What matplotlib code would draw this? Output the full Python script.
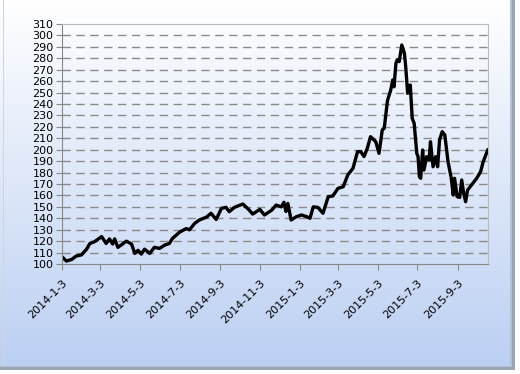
import numpy as np
import pandas as pd
import matplotlib
matplotlib.use('Agg')
import matplotlib.pyplot as plt
from matplotlib.patches import Rectangle

# values (approximate)
dates = ['2014-01-03', '2014-01-10', '2014-01-18', '2014-01-25', '2014-02-02', '2014-02-10',
         '2014-02-15', '2014-02-22', '2014-03-05', '2014-03-12', '2014-03-17', '2014-03-22',
         '2014-03-25', '2014-03-30', '2014-04-04', '2014-04-12', '2014-04-20', '2014-04-25',
         '2014-04-30', '2014-05-05', '2014-05-10', '2014-05-18', '2014-05-25', '2014-06-02',
         '2014-06-10', '2014-06-17', '2014-06-22', '2014-07-03', '2014-07-13', '2014-07-18',
         '2014-07-26', '2014-08-02', '2014-08-13', '2014-08-20', '2014-08-28', '2014-09-05',
         '2014-09-12', '2014-09-17', '2014-09-25', '2014-10-08', '2014-10-18', '2014-10-23',
         '2014-11-03', '2014-11-10', '2014-11-21', '2014-11-28', '2014-12-06', '2014-12-10',
         '2014-12-13', '2014-12-16', '2014-12-21', '2014-12-29', '2015-01-06', '2015-01-14',
         '2015-01-19', '2015-01-24', '2015-01-31', '2015-02-08', '2015-02-16', '2015-02-23',
         '2015-03-03', '2015-03-11', '2015-03-18', '2015-03-26', '2015-04-02', '2015-04-07',
         '2015-04-12', '2015-04-17', '2015-04-22', '2015-04-30', '2015-05-05', '2015-05-10',
         '2015-05-13', '2015-05-18', '2015-05-23', '2015-05-26', '2015-05-28', '2015-05-31',
         '2015-06-02', '2015-06-05', '2015-06-09', '2015-06-13', '2015-06-15', '2015-06-18',
         '2015-06-22', '2015-06-25', '2015-06-28', '2015-07-02', '2015-07-04', '2015-07-06',
         '2015-07-08', '2015-07-11', '2015-07-13', '2015-07-17', '2015-07-21', '2015-07-23',
         '2015-07-27', '2015-07-31', '2015-08-03', '2015-08-06', '2015-08-10', '2015-08-14',
         '2015-08-19', '2015-08-24', '2015-08-27', '2015-08-29', '2015-09-02', '2015-09-06',
         '2015-09-09', '2015-09-12', '2015-09-15', '2015-09-18', '2015-09-24', '2015-10-02',
         '2015-10-08', '2015-10-12', '2015-10-16', '2015-10-19']
values = [106.4, 102.6, 104, 107, 108, 113,
          118, 119.5, 124, 118, 122, 117.5,
          122, 114.6, 116.6, 120, 117.5, 109.3,
          112, 108.7, 113, 109.3, 114.6, 113.7,
          116.6, 118, 122.5, 128, 131, 130,
          135.6, 138.5, 141, 144.4, 139, 148.7,
          149.6, 145.8, 149.6, 152.5, 147, 143.7,
          147.8, 142.9, 147, 151.6, 150, 154,
          146, 153, 138.5, 141.4, 142.9, 141.4,
          140, 150, 149.6, 144.4, 158.9, 159.5,
          166.2, 167.6, 177.9, 183.7, 198.3, 198.3,
          194, 201.2, 211.4, 207, 196.8, 217.3,
          218.7, 243, 252.2, 261, 255, 275.6,
          278.5, 277, 291.6, 284.3, 272.6, 249.3,
          256.6, 227.5, 223, 196.8, 193.9, 176.4,
          175, 199.7, 182.2, 193.9, 191, 207,
          185.1, 193.9, 185.1, 208.5, 215.8, 212.9,
          189.5, 175, 160.4, 175, 158.9, 158.3,
          173.5, 161.9, 154.5, 164.7, 169.1, 175,
          180.8, 189.5, 195.4, 199.7]
tick_dates = ['2014-1-3', '2014-3-3', '2014-5-3', '2014-7-3', '2014-9-3', '2014-11-3',
              '2015-1-3', '2015-3-3', '2015-5-3', '2015-7-3', '2015-9-3']

x = pd.to_datetime(dates)
ticks = pd.to_datetime(tick_dates)

fig = plt.figure(figsize=(5.2, 3.74), dpi=100)

# gradient background
bg = fig.add_axes([0, 0, 1, 1], zorder=0)
grad = np.linspace(0, 1, 256).reshape(-1, 1)
top = np.array([1.0, 1.0, 1.0])
bot = np.array([0.73, 0.81, 0.95])
img = top + (bot - top) * grad[:, :, None]
bg.imshow(img, aspect='auto', extent=[0, 1, 0, 1], origin='upper')
bg.set_xlim(0, 1)
bg.set_ylim(0, 1)
bg.axis('off')
# frame and soft shadow
bg.add_patch(Rectangle((0.005, 0.02), 0.003, 0.98, color='#d0d4dc', lw=0))
bg.add_patch(Rectangle((0.99, 0.0), 0.01, 1, color='#ffffff', lw=0))
bg.add_patch(Rectangle((0.0, 0.0), 1, 0.01, color='#ffffff', lw=0))
bg.add_patch(Rectangle((0.984, 0.01), 0.006, 0.99, color='#9aa5b8', lw=0))
bg.add_patch(Rectangle((0.0, 0.01), 0.99, 0.008, color='#9aa5b8', lw=0))
bg.add_patch(Rectangle((0.981, 0.018), 0.003, 0.982, color='#b4c0d4', lw=0))
bg.add_patch(Rectangle((0.0, 0.018), 0.984, 0.004, color='#b4c0d4', lw=0))

ax = fig.add_axes([0.119, 0.294, 0.819, 0.642], zorder=1)
ax.set_facecolor('none')
ax.plot(x, values, color='black', lw=2.4, solid_joinstyle='round')

ax.set_ylim(100, 310)
ax.set_yticks(np.arange(100, 311, 10))
ax.set_xlim(ticks[0], pd.Timestamp('2015-10-19'))
ax.set_xticks(ticks)
ax.set_xticklabels(tick_dates, rotation=45, ha='right', rotation_mode='anchor')
ax.tick_params(axis='both', labelsize=8, length=4, color='#888888', pad=2)
ax.tick_params(axis='x', pad=6)

for v in np.arange(110, 310, 10):
    ax.axhline(v, color='#8a8a8a', lw=1, dashes=(6, 4), zorder=0)

ax.spines['left'].set_color('#888888')
ax.spines['bottom'].set_color('#888888')
ax.spines['top'].set_color('#bbbbbb')
ax.spines['right'].set_color('#bbbbbb')

fig.savefig('out.png', dpi=100)
